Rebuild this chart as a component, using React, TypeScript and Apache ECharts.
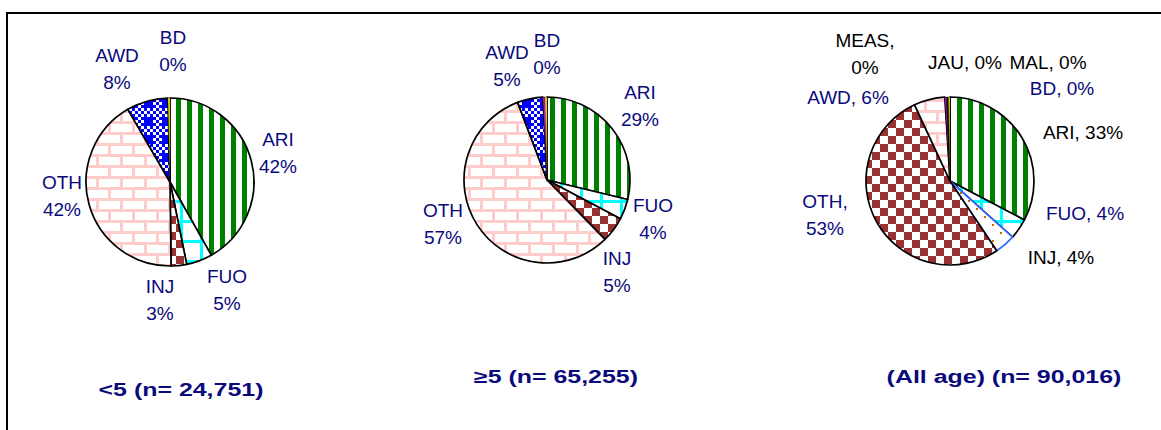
import React, { useEffect, useRef } from 'react';
import * as echarts from 'echarts';

// ---- data ----
const pie1Names = ['ARI', 'FUO', 'INJ', 'OTH', 'AWD', 'BD'];
const pie1Values = [42, 5, 3, 42, 8, 0.4];
const pie1Title = '<5 (n= 24,751)';

const pie2Names = ['ARI', 'FUO', 'INJ', 'OTH', 'AWD', 'MEAS', 'BD'];
const pie2Values = [29, 4, 5, 57, 5, 0.4, 0.4];
const pie2Title = '\u22655 (n= 65,255)';

const pie3Names = ['ARI', 'FUO', 'INJ', 'OTH', 'AWD', 'MEAS', 'JAU', 'MAL', 'BD'];
const pie3Values = [33, 4, 4, 53, 6, 0.3, 0.2, 0.2, 0.3];
const pie3Title = '(All age) (n= 90,016)';

// ---- layout / style ----
const NAVY = '#0a0a7c';
const FONT = '"Liberation Sans", Arial, sans-serif';

const pie1LabelPos: number[][] = [[278, 153], [227, 290], [160, 300], [62, 196], [117, 69], [173, 51]];
const pie2LabelPos: (number[] | null)[] = [[640, 106], [653, 219], [617, 272], [443, 224], [507, 66], null, [547, 54]];
const pie3LabelPos: number[][] = [[1083, 132], [1085, 213], [1061, 257], [825, 215], [848, 97], [865, 54], [965, 62], [1048, 62], [1062, 88]];
const pie3LabelColors = ['#000', NAVY, '#000', NAVY, NAVY, '#000', '#000', '#000', NAVY];
const pie3Wrap = ['MEAS', 'OTH'];

function tile(w: number, h: number, draw: (c: CanvasRenderingContext2D) => void) {
  const cv = document.createElement('canvas');
  cv.width = w;
  cv.height = h;
  const ctx = cv.getContext('2d')!;
  ctx.fillStyle = '#fff';
  ctx.fillRect(0, 0, w, h);
  draw(ctx);
  return { image: cv.toDataURL(), repeat: 'repeat', imageWidth: w, imageHeight: h } as any;
}

function makePatterns() {
  const stripes = tile(11, 11, (c) => {
    c.fillStyle = '#008000';
    c.fillRect(0, 0, 5, 11);
  });
  const grid = tile(20, 20, (c) => {
    c.fillStyle = '#00ffff';
    c.fillRect(0, 0, 3, 20);
    c.fillRect(0, 0, 20, 3);
  });
  const checker = tile(16, 16, (c) => {
    c.fillStyle = '#993333';
    c.fillRect(0, 0, 8, 8);
    c.fillRect(8, 8, 8, 8);
  });
  const brick = tile(24, 22, (c) => {
    c.fillStyle = '#ffcccc';
    c.fillRect(0, 0, 24, 3);
    c.fillRect(0, 11, 24, 3);
    c.fillRect(0, 0, 3, 11);
    c.fillRect(12, 11, 3, 11);
  });
  const plaid = tile(18, 18, (c) => {
    c.fillStyle = '#0000ff';
    for (let i = 0; i < 6; i++) {
      for (let j = 0; j < 6; j++) {
        const solid = i < 3 && j >= 3;
        if (solid || (i + j) % 2 === 0) c.fillRect(i * 3, j * 3, 3, 3);
      }
    }
  });
  const dots = tile(16, 16, (c) => {
    c.fillStyle = '#cc6600';
    c.fillRect(0, 0, 2, 2);
    c.fillRect(8, 8, 2, 2);
  });
  return { stripes, grid, checker, brick, plaid, dots };
}

export default function App() {
  const ref = useRef<HTMLDivElement>(null);

  useEffect(() => {
    if (!ref.current) return;
    const chart = echarts.init(ref.current, undefined, { renderer: 'svg' });
    const P = makePatterns();

    const fill12: Record<string, any> = {
      ARI: P.stripes,
      FUO: P.grid,
      INJ: P.checker,
      OTH: P.brick,
      AWD: P.plaid,
      MEAS: '#ff00ff',
      BD: '#ffff00',
    };
    const fill3: Record<string, any> = {
      ARI: P.stripes,
      FUO: P.grid,
      INJ: P.dots,
      OTH: P.checker,
      AWD: P.brick,
      MEAS: '#ff00ff',
      JAU: '#000000',
      MAL: '#000000',
      BD: '#ffff00',
    };

    const mkData = (names: string[], values: number[], fills: Record<string, any>, pie: number) =>
      names.map((n, i) => {
        const tiny = values[i] < 1;
        const item: any = {
          name: n,
          value: values[i],
          itemStyle: {
            color: fills[n],
            borderColor: pie === 3 && n === 'INJ' ? '#3366ff' : '#000',
            borderWidth: tiny ? 0.4 : 1.7,
          },
        };
        if (pie === 2 && n === 'MEAS') item.label = { show: false };
        if (pie === 3) item.label = { color: pie3LabelColors[i] };
        return item;
      });

    const baseLabel = {
      show: true,
      position: 'outside',
      fontFamily: FONT,
      fontSize: 19,
      lineHeight: 27,
      color: NAVY,
      align: 'center',
    };

    const layoutFrom = (pos: (number[] | null)[]) => (p: any) => {
      const q = pos[p.dataIndex];
      if (!q) return {};
      return { x: q[0], y: q[1], align: 'center', verticalAlign: 'middle' };
    };

    const pieBase = {
      type: 'pie',
      startAngle: 90,
      clockwise: true,
      avoidLabelOverlap: false,
      labelLine: { show: false },
      emphasis: { disabled: true },
      silent: true,
    };

    const fmt12 = (p: any) => `${p.name}\n${Math.round(p.value)}%`;
    const fmt3 = (p: any) =>
      `${p.name},${pie3Wrap.includes(p.name) ? '\n' : ' '}${Math.round(p.value)}%`;

    chart.setOption({
      animation: false,
      backgroundColor: '#fff',
      series: [
        {
          ...pieBase,
          center: [170, 182],
          radius: 84,
          label: { ...baseLabel, formatter: fmt12 },
          labelLayout: layoutFrom(pie1LabelPos),
          data: mkData(pie1Names, pie1Values, fill12, 1),
        },
        {
          ...pieBase,
          center: [547, 180],
          radius: 83,
          label: { ...baseLabel, formatter: fmt12 },
          labelLayout: layoutFrom(pie2LabelPos),
          data: mkData(pie2Names, pie2Values, fill12, 2),
        },
        {
          ...pieBase,
          center: [950, 181],
          radius: 84,
          label: { ...baseLabel, formatter: fmt3 },
          labelLayout: layoutFrom(pie3LabelPos),
          data: mkData(pie3Names, pie3Values, fill3, 3),
        },
      ],
      graphic: [
        {
          type: 'polyline',
          shape: { points: [[7, 430], [7, 13], [1161, 13]] },
          style: { stroke: '#000', lineWidth: 2, fill: null },
          silent: true,
        },
        ...[
          { t: pie1Title, x: 181, y: 390 },
          { t: pie2Title, x: 556, y: 377 },
          { t: pie3Title, x: 1004, y: 377 },
        ].map((o) => ({
          type: 'text',
          x: o.x,
          y: o.y,
          scaleX: 1.385,
          style: {
            text: o.t,
            fill: NAVY,
            font: `bold 18px ${FONT}`,
            align: 'center',
            verticalAlign: 'middle',
          },
          silent: true,
        })),
      ],
    });

    return () => chart.dispose();
  }, []);

  return (
    <div
      ref={ref}
      style={{ position: 'absolute', left: 0, top: 0, width: 1161, height: 430, background: '#fff' }}
    />
  );
}
